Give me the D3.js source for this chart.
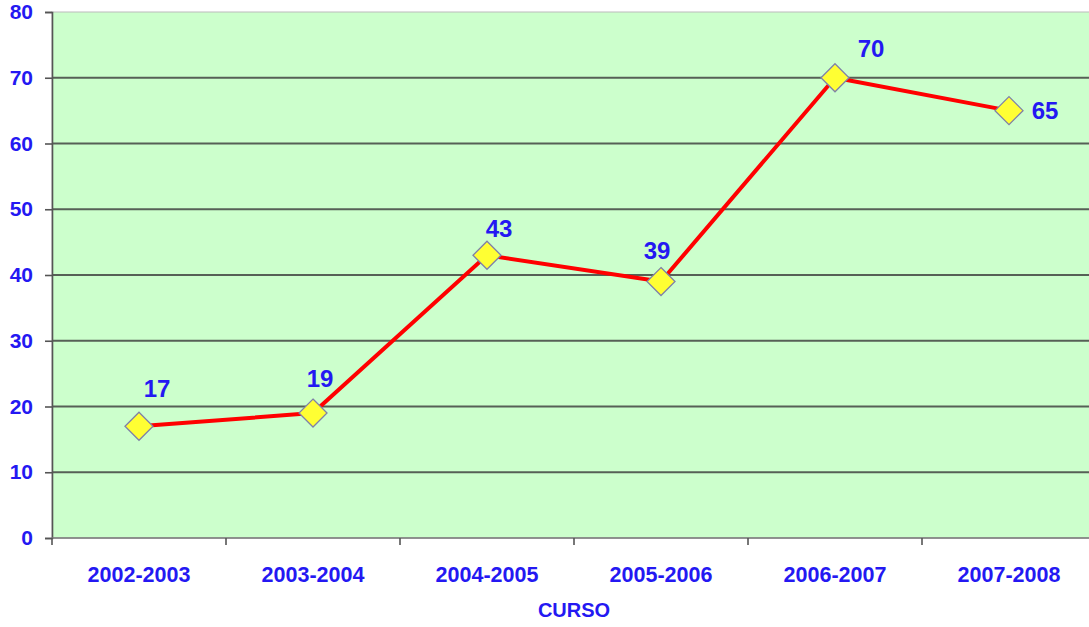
<!DOCTYPE html>
<html>
<head>
<meta charset="utf-8">
<script src="https://cdn.jsdelivr.net/npm/d3@7"></script>
<style>
  html, body { margin: 0; padding: 0; background: #fff; overflow: hidden; }
  svg { display: block; }
  text { font-family: "Liberation Sans", Arial, sans-serif; font-weight: bold; fill: #2418f2; }
</style>
</head>
<body>
<svg id="chart" width="1089" height="627"></svg>
<script>
// data
const cursos = ["2002-2003", "2003-2004", "2004-2005", "2005-2006", "2006-2007", "2007-2008"];
const valores = [17, 19, 43, 39, 70, 65];
const yTicks = [0, 10, 20, 30, 40, 50, 60, 70, 80];
const axisTitle = "CURSO";

// label nudges (layout only)
const labelDx = [18, 7, 12, -4, 36, 36];
const labelDy = [-29, -26, -18, -23, -21, 8];

const svg = d3.select("#chart");
const plotLeft = 52, plotRight = 1096, plotTop = 12, plotBottom = 538;

const x = d3.scaleBand().domain(cursos).range([plotLeft, plotRight]).padding(0);
const y = d3.scaleLinear().domain([0, 80]).range([plotBottom, plotTop]);
const cx = d => x(d) + x.bandwidth() / 2;

// plot background
svg.append("rect")
    .attr("x", plotLeft).attr("y", plotTop)
    .attr("width", plotRight - plotLeft).attr("height", plotBottom - plotTop)
    .attr("fill", "#ccffcc")
    .attr("stroke", "#bbbbbb")
    .attr("stroke-width", 1);

// gridlines
svg.append("g")
    .selectAll("line")
    .data(yTicks.filter(t => t > 0 && t < 80))
    .enter()
    .append("line")
    .attr("x1", plotLeft).attr("x2", plotRight)
    .attr("y1", d => y(d)).attr("y2", d => y(d))
    .attr("stroke", "#566056")
    .attr("stroke-width", 1.8);

// y axis
const yAxis = svg.append("g")
    .attr("transform", `translate(${plotLeft},0)`)
    .call(d3.axisLeft(y).tickValues(yTicks).tickSize(7).tickPadding(12));
yAxis.select(".domain").attr("stroke", "#555").attr("stroke-width", 1.6);
yAxis.selectAll(".tick line").attr("stroke", "#555").attr("stroke-width", 1.6);
yAxis.selectAll(".tick text")
    .attr("font-size", 21)
    .attr("fill", "#2418f2");

// x axis
svg.append("line")
    .attr("x1", plotLeft).attr("x2", plotRight)
    .attr("y1", plotBottom).attr("y2", plotBottom)
    .attr("stroke", "#777").attr("stroke-width", 1.6);

const boundaries = cursos.map(c => x(c)).concat([x(cursos[cursos.length - 1]) + x.bandwidth()]);
svg.append("g")
    .selectAll("line")
    .data(boundaries)
    .enter()
    .append("line")
    .attr("x1", d => d).attr("x2", d => d)
    .attr("y1", plotBottom).attr("y2", plotBottom + 7)
    .attr("stroke", "#555").attr("stroke-width", 1.6);

const xAxis = svg.append("g")
    .attr("transform", `translate(0,${plotBottom})`)
    .call(d3.axisBottom(x).tickSize(0).tickPadding(0));
xAxis.select(".domain").remove();
xAxis.selectAll(".tick text")
    .attr("y", 44)
    .attr("dy", null)
    .attr("font-size", 21.5)
    .attr("fill", "#2418f2");

svg.append("text")
    .attr("x", (plotLeft + plotRight) / 2)
    .attr("y", 617)
    .attr("text-anchor", "middle")
    .attr("font-size", 20)
    .text(axisTitle);

// line
const line = d3.line()
    .x((d, i) => cx(cursos[i]))
    .y(d => y(d));

svg.append("path")
    .datum(valores)
    .attr("d", line)
    .attr("fill", "none")
    .attr("stroke", "#ff0000")
    .attr("stroke-width", 4)
    .attr("stroke-linejoin", "round");

// markers
svg.append("g")
    .selectAll("path")
    .data(valores)
    .enter()
    .append("path")
    .attr("transform", (d, i) => `translate(${cx(cursos[i])},${y(d)})`)
    .attr("d", "M0,-14L14,0L0,14L-14,0Z")
    .attr("fill", "#ffff33")
    .attr("stroke", "#7f80a8")
    .attr("stroke-width", 1.3);

// value labels
svg.append("g")
    .selectAll("text")
    .data(valores)
    .enter()
    .append("text")
    .attr("x", (d, i) => cx(cursos[i]) + labelDx[i])
    .attr("y", (d, i) => y(d) + labelDy[i])
    .attr("text-anchor", "middle")
    .attr("font-size", 24)
    .text(d => d);
</script>
</body>
</html>
